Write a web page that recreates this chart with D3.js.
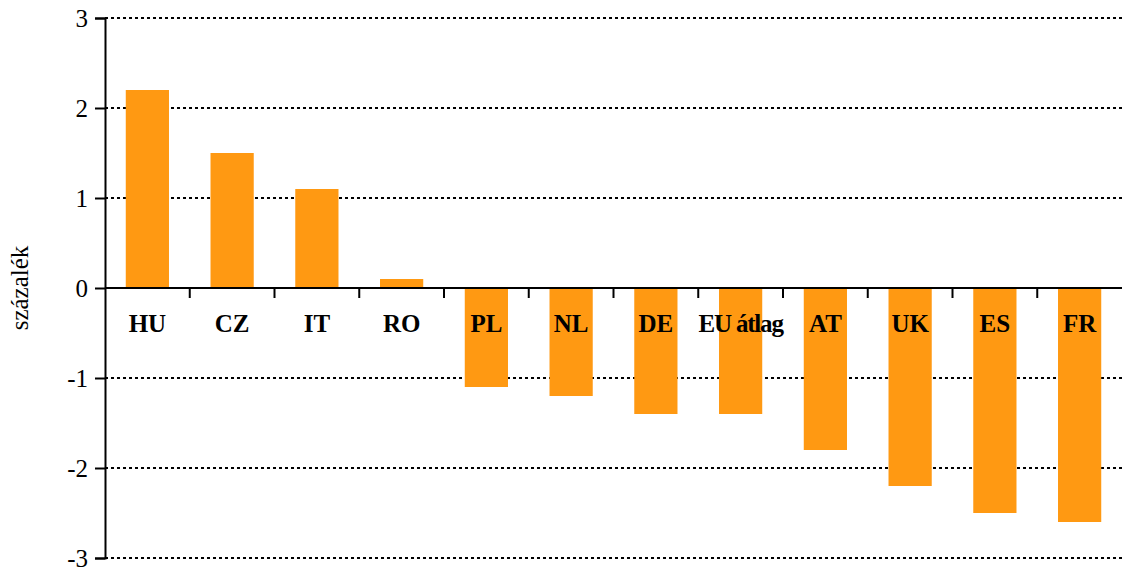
<!DOCTYPE html>
<html>
<head>
<meta charset="utf-8">
<script src="https://d3js.org/d3.v7.min.js"></script>
<style>
  html, body { margin: 0; padding: 0; background: #fff; }
  svg { display: block; }
  svg text { font-family: "Liberation Serif", "Times New Roman", serif; }
</style>
</head>
<body>
<svg id="chart" width="1122" height="572"></svg>
<script>
const categories = ["HU", "CZ", "IT", "RO", "PL", "NL", "DE", "EU átlag", "AT", "UK", "ES", "FR"];
const values = [2.2, 1.5, 1.1, 0.1, -1.1, -1.2, -1.4, -1.4, -1.8, -2.2, -2.5, -2.6];
const yTicks = [-3, -2, -1, 0, 1, 2, 3];
const yLabel = "százalék";

(function () {
const svg = d3.select("#chart");
const mLeft = 105, mRight = 1122, mTop = 18, mBottom = 558;
const serif = "Liberation Serif, Times New Roman, serif";

const x = d3.scaleBand().domain(categories).range([mLeft, mRight]).paddingInner(0.49).paddingOuter(0.245);
const xb = d3.scaleBand().domain(categories).range([mLeft, mRight]);
const y = d3.scaleLinear().domain([-3, 3]).range([mBottom, mTop]);

// gridlines
svg.append("g").selectAll("line").data(yTicks.filter(d => d !== 0)).join("line")
  .attr("x1", mLeft).attr("x2", mRight)
  .attr("y1", d => y(d)).attr("y2", d => y(d))
  .attr("stroke", "#000").attr("stroke-width", 2).attr("stroke-dasharray", "3,3");

// bars
svg.append("g").selectAll("rect").data(categories).join("rect")
  .attr("x", d => x(d))
  .attr("width", x.bandwidth())
  .attr("y", (d, i) => y(Math.max(0, values[i])))
  .attr("height", (d, i) => Math.abs(y(values[i]) - y(0)))
  .attr("fill", "#FF9912");

// y axis
const yAxis = d3.axisLeft(y).tickValues(yTicks).tickSize(10).tickPadding(7).tickFormat(d => String(d));
const yg = svg.append("g").attr("transform", `translate(${mLeft},0)`).call(yAxis);
yg.attr("font-family", serif).attr("font-size", 25);
yg.select(".domain").attr("stroke-width", 2);
yg.selectAll(".tick line").attr("stroke-width", 2);
yg.selectAll("text").attr("fill", "#000").style("font-family", serif).style("font-size", "25px");

// zero line with category ticks
const xAxis = d3.axisBottom(xb).tickSize(0).tickFormat("");
const xg = svg.append("g").attr("transform", `translate(0,${y(0)})`).call(xAxis);
xg.select(".domain").attr("stroke-width", 2).attr("d", `M${mLeft},0H${mRight}`);
xg.selectAll(".tick").remove();
xg.selectAll(".sep").data(categories.slice(1)).join("line")
  .attr("class", "sep")
  .attr("x1", d => xb(d)).attr("x2", d => xb(d))
  .attr("y1", 0).attr("y2", 10)
  .attr("stroke", "#000").attr("stroke-width", 2);

// category labels
svg.append("g").selectAll("text").data(categories).join("text")
  .attr("x", d => xb(d) + xb.bandwidth() / 2)
  .attr("y", y(0) + 44)
  .attr("text-anchor", "middle")
  .style("font-family", serif)
  .attr("font-weight", "bold")
  .attr("font-size", 25)
  .attr("letter-spacing", d => d === "EU átlag" ? -1.2 : 0)
  .text(d => d);

// y label
svg.append("text")
  .attr("transform", `translate(28,${y(0)}) rotate(-90)`)
  .attr("text-anchor", "middle")
  .style("font-family", serif)
  .attr("font-size", 25)
  .text(yLabel);
})();
</script>
</body>
</html>
